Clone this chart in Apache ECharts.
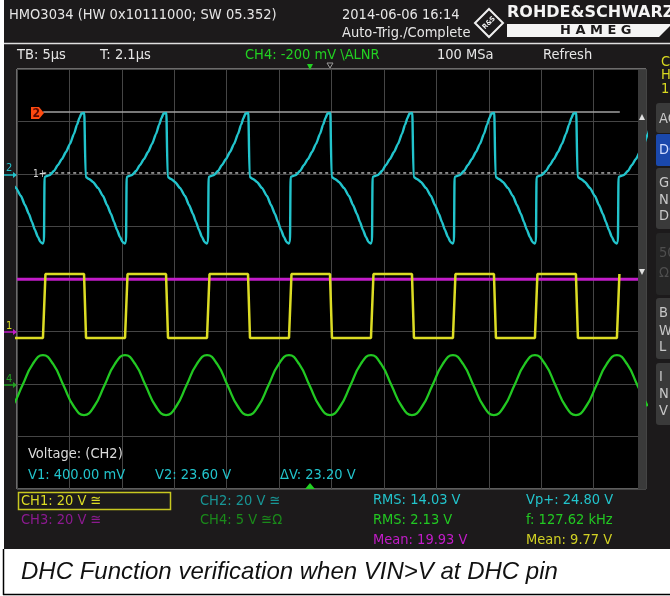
<!DOCTYPE html>
<html>
<head>
<meta charset="utf-8">
<title>HMO3034 - DHC function verification</title>
<script src="https://cdn.jsdelivr.net/npm/echarts@6.0.0/dist/echarts.min.js"></script>
<style>
  html, body { margin: 0; padding: 0; background: #fff; }
  #scope { width: 670px; height: 596px; }
</style>
</head>
<body>
<div id="scope"></div>
<script>
// time base 5 us/div, 12 divisions; y axis in screen divisions (-4..4)
const timeMin = 0;
const timeMax = 60;
const timePerDiv = 5;

// falling edges of CH2 / CH1 (us)
const cycleStarts = [-9.16, -1.34, 6.49, 14.31, 22.13, 29.95, 37.77, 45.59, 53.41];

// CH2 (cyan), one period after the falling edge: time offset (us), volts
const ch2T = [0, 0.057, 0.382, 0.763, 1.240, 1.717, 2.098, 2.480, 2.766, 3.052, 3.338, 3.577, 3.768, 3.911,
  3.968, 4.197, 4.483, 4.864, 5.246, 5.627, 6.009, 6.390, 6.772, 7.058, 7.297, 7.487, 7.764];
const ch2V = [23.24, -1.14, -1.90, -3.05, -5.33, -8.38, -11.81, -15.24, -18.29, -21.33, -24.00, -25.90, -26.48, -25.90,
  -1.14, -0.76, -0.38, 1.14, 3.43, 5.71, 8.38, 11.43, 15.24, 18.67, 21.33, 23.05, 23.24];

// CH1 (yellow) square wave, one period
const ch1T = [-0.095, 0.095, 3.815, 4.054];
const ch1V = [21.9, -2.5, -2.5, 21.9];

// CH4 (green) sine, one period
const ch4T = [-0.095, 0.882, 1.860, 2.838, 3.815, 4.793, 5.770, 6.748];
const ch4V = [-3.02, -2.17, -0.16, 1.84, 2.70, 1.84, -0.16, -2.17];

// CH3 (magenta) flat level
const ch3T = [0, 60];
const ch3V = [19.93, 19.93];

// cursors on CH2
const cursorV = [0.4, 23.6];
const cursorSpan = [2.5, 57.5];

const ch1 = { vdiv: 20, offset: -1.0 };
const ch2 = { vdiv: 20, offset: 2.0 };
const ch3 = { vdiv: 20, offset: -1.0 };
const ch4 = { vdiv: 5, offset: -1.99 };

const toDiv = (v, ch) => v / ch.vdiv + ch.offset;

function buildTrace(shapeT, shapeV, ch) {
  const pts = [];
  cycleStarts.forEach(t0 => {
    shapeT.forEach((dt, i) => pts.push([+(t0 + dt).toFixed(3), toDiv(shapeV[i], ch)]));
  });
  return pts;
}

const FONT = '"DejaVu Sans Condensed", "DejaVu Sans", sans-serif';
const txt = (text, x, y, fill, size, extra) => ({
  type: 'text', z: 102,
  style: Object.assign({ text, x, y, fill, font: `${size || 14.5}px ${FONT}`, textVerticalAlign: 'middle' }, extra || {})
});
const rect = (x, y, w, h, fill, extra) => ({
  type: 'rect', z: 99,
  shape: { x, y, width: w, height: h, r: (extra && extra.r) || 0 },
  style: Object.assign({ fill }, (extra && extra.style) || {})
});
const poly = (points, fill, z) => ({ type: 'polygon', z: z || 100, shape: { points }, style: { fill } });
const line = (x1, y1, x2, y2, stroke, w) => ({
  type: 'line', z: 100, shape: { x1, y1, x2, y2 }, style: { stroke, lineWidth: w || 1 }
});

const chart = echarts.init(document.getElementById('scope'));

const traceBase = { type: 'line', symbol: 'none', silent: true, animation: false, clip: true };

const option = {
  backgroundColor: '#1c1a1b',
  animation: false,
  grid: {
    left: 17, top: 69, width: 629, height: 420,
    show: true, backgroundColor: '#000', borderColor: '#bdbdbd', borderWidth: 1
  },
  xAxis: {
    type: 'value', min: timeMin, max: timeMax, interval: timePerDiv,
    axisLine: { show: false }, axisTick: { show: false }, axisLabel: { show: false },
    splitLine: { show: true, lineStyle: { color: '#454545', width: 1 } }
  },
  yAxis: {
    type: 'value', min: -4, max: 4, interval: 1,
    axisLine: { show: false }, axisTick: { show: false }, axisLabel: { show: false },
    splitLine: { show: true, lineStyle: { color: '#454545', width: 1 } }
  },
  series: [
    Object.assign({}, traceBase, {
      name: 'V2', data: cursorSpan.map(t => [t, toDiv(cursorV[1], ch2)]),
      lineStyle: { color: '#a0a0a0', width: 1.5 }
    }),
    Object.assign({}, traceBase, {
      name: 'V1', data: cursorSpan.map(t => [t, toDiv(cursorV[0], ch2)]),
      lineStyle: { color: '#d8d8d8', width: 1.2, type: [3, 3] }
    }),
    Object.assign({}, traceBase, {
      name: 'CH3', data: ch3T.map((t, i) => [t, toDiv(ch3V[i], ch3)]),
      lineStyle: { color: '#c21cc8', width: 3 }
    }),
    Object.assign({}, traceBase, {
      name: 'CH1', data: buildTrace(ch1T, ch1V, ch1),
      lineStyle: { color: '#dcdc24', width: 2.5 }
    }),
    Object.assign({}, traceBase, {
      name: 'CH4', data: buildTrace(ch4T, ch4V, ch4), smooth: 0.5,
      lineStyle: { color: '#22c822', width: 2.3 }
    }),
    Object.assign({}, traceBase, {
      name: 'CH2', data: buildTrace(ch2T, ch2V, ch2), smooth: 0.2, smoothMonotone: 'x',
      lineStyle: { color: '#22c4cc', width: 2.4 }
    })
  ],
  graphic: [
    // left margin and caption strip
    rect(0, 0, 4, 549, '#ffffff'),
    rect(0, 549, 670, 47, '#ffffff'),
    line(3.5, 549, 3.5, 595, '#000', 1.5),
    line(3, 594.5, 670, 594.5, '#000', 1.5),
    { type: 'text', z: 100, style: { text: 'DHC Function verification when VIN>V at DHC pin', x: 21, y: 572,
      fill: '#111', font: 'italic 24px "Liberation Sans", Arial, sans-serif', textVerticalAlign: 'middle' } },

    // header
    txt('HMO3034 (HW 0x10111000; SW 05.352)', 9, 15, '#e6e6e6'),
    txt('2014-06-06 16:14', 342, 15, '#e6e6e6'),
    txt('Auto-Trig./Complete', 342, 33, '#e6e6e6'),
    line(4, 43.5, 670, 43.5, '#e0e0e0', 1.5),
    txt('TB: 5µs', 17, 55, '#e6e6e6'),
    txt('T: 2.1µs', 100, 55, '#e6e6e6'),
    txt('CH4: -200 mV \\ALNR', 245, 55, '#22d022'),
    txt('100 MSa', 437, 55, '#e6e6e6'),
    txt('Refresh', 543, 55, '#e6e6e6'),

    // R&S logo
    { type: 'polygon', z: 100, shape: { points: [[489, 9], [503, 23], [489, 37], [475, 23]] },
      style: { fill: 'none', stroke: '#f0f0f0', lineWidth: 2 } },
    { type: 'text', z: 100, rotation: Math.PI / 4, x: 489, y: 23,
      style: { text: 'R&S', x: 0, y: 0, fill: '#f0f0f0', font: `bold 7px ${FONT}`, textAlign: 'center', textVerticalAlign: 'middle' } },
    txt('ROHDE&SCHWARZ', 507, 13, '#f4f4f4', 16, { font: 'bold 16px "DejaVu Sans", sans-serif' }),
    poly([[507, 24], [670, 24], [670, 26], [659, 37], [507, 37]], '#f4f4f4'),
    txt('H A M E G', 560, 31, '#1c1a1b', 13, { font: 'bold 13px "DejaVu Sans", sans-serif' }),

    // right panel
    txt('C', 661, 62, '#d8d820'),
    txt('H', 661, 75, '#d8d820'),
    txt('1', 661, 89, '#d8d820'),
    rect(656, 103, 30, 30, '#3a3a3a', { r: 3 }),
    rect(656, 134, 30, 32, '#1a48ac', { r: 2 }),
    rect(656, 168, 30, 61, '#3a3a3a', { r: 3 }),
    rect(656, 233, 30, 62, '#262626', { r: 3 }),
    rect(656, 298, 30, 61, '#3a3a3a', { r: 3 }),
    rect(656, 363, 30, 62, '#3a3a3a', { r: 3 }),
    txt('AC', 659, 119, '#c8c8c8'),
    txt('DC', 659, 150, '#d0dcff'),
    txt('G', 659, 183, '#c8c8c8'),
    txt('N', 659, 200, '#c8c8c8'),
    txt('D', 659, 216, '#c8c8c8'),
    txt('50', 659, 253, '#4e4e4e'),
    txt('Ω', 659, 273, '#4e4e4e'),
    txt('B', 659, 313, '#c8c8c8'),
    txt('W', 659, 331, '#c8c8c8'),
    txt('L', 659, 347, '#c8c8c8'),
    txt('I', 659, 377, '#c8c8c8'),
    txt('N', 659, 394, '#c8c8c8'),
    txt('V', 659, 411, '#c8c8c8'),

    // scroll strip at the right edge of the screen
    rect(638, 70, 8, 419, '#3a3a3a'),
    poly([[642, 114], [645, 120], [639, 120]], '#e0e0e0', 101),
    poly([[639, 269], [645, 269], [642, 275]], '#e0e0e0', 101),

    // trigger markers
    poly([[307, 64], [313, 64], [310, 70]], '#22d022'),
    { type: 'polygon', z: 100, shape: { points: [[327, 63], [333, 63], [330, 68]] },
      style: { fill: 'none', stroke: '#9a9a9a', lineWidth: 1 } },
    poly([[305, 489], [315, 489], [310, 483]], '#22d022', 101),

    // channel markers on the left edge
    txt('2', 6, 168, '#22c4cc', 11),
    line(4, 175, 16, 175, '#22c4cc', 1.5),
    poly([[17, 175], [13, 172], [13, 178]], '#22c4cc'),
    txt('1', 6, 326, '#dcdc24', 11),
    line(4, 332, 16, 332, '#c21cc8', 1.5),
    poly([[17, 332], [13, 329], [13, 335]], '#c21cc8'),
    txt('4', 6, 379, '#22a022', 11),
    line(4, 385, 16, 385, '#22a022', 1.5),
    poly([[17, 385], [13, 382], [13, 388]], '#22a022'),

    // cursor labels
    poly([[31, 107], [39, 107], [44, 113], [39, 119], [31, 119]], '#ff4a10', 101),
    txt('2', 32.5, 113.5, '#5a0800', 12, { font: `bold 12px ${FONT}` }),
    txt('1+', 33, 174, '#d8d8d8', 10),

    // measurement block inside the screen
    txt('Voltage: (CH2)', 28, 454, '#dcdcdc'),
    txt('V1: 400.00 mV', 28, 475, '#22c4cc'),
    txt('V2: 23.60 V', 155, 475, '#22c4cc'),
    txt('ΔV: 23.20 V', 280, 475, '#22c4cc'),

    // channel settings and automatic measurements
    { type: 'rect', z: 100, shape: { x: 18.5, y: 492.5, width: 152, height: 17 },
      style: { fill: 'none', stroke: '#c8c820', lineWidth: 1.5 } },
    txt('CH1: 20 V ≅', 21, 501, '#dcdc24'),
    txt('CH2: 20 V ≅', 200, 501, '#189696'),
    txt('CH3: 20 V ≅', 21, 520, '#8c1a90'),
    txt('CH4: 5 V ≅Ω', 200, 520, '#1a8a1a'),
    txt('RMS: 14.03 V', 373, 500, '#22c4cc'),
    txt('RMS: 2.13 V', 373, 520, '#22c822'),
    txt('Mean: 19.93 V', 373, 540, '#c21cc8'),
    txt('Vp+: 24.80 V', 526, 500, '#22c4cc'),
    txt('f: 127.62 kHz', 526, 520, '#22c822'),
    txt('Mean: 9.77 V', 526, 540, '#d0d024')
  ]
};

chart.setOption(option);
</script>
</body>
</html>
